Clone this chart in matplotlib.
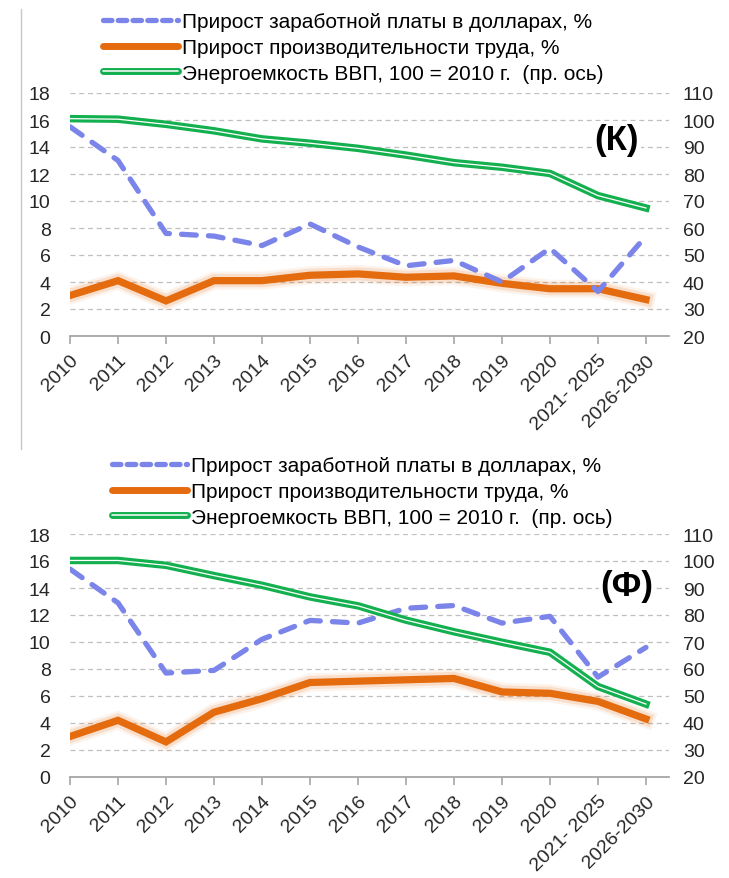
import matplotlib
matplotlib.use('Agg')
import matplotlib.pyplot as plt
import matplotlib.patheffects as pe
from matplotlib.lines import Line2D

plt.rcParams['font.family'] = ['Liberation Sans', 'DejaVu Sans']

years = ['2010', '2011', '2012', '2013', '2014', '2015', '2016', '2017',
         '2018', '2019', '2020', '2021- 2025', '2026-2030']

# (К) scenario
wage_k = [15.5, 13.0, 7.6, 7.4, 6.7, 8.3, 6.6, 5.2, 5.6, 4.0, 6.5, 3.3, 7.4]
prod_k = [3.0, 4.1, 2.6, 4.1, 4.1, 4.5, 4.6, 4.35, 4.45, 3.9, 3.5, 3.5, 2.7]
energy_k = [100.5, 100.3, 98.4, 96.0, 93.0, 91.4, 89.5, 87.0, 84.2, 82.5, 80.2, 72.0, 67.4]

# (Ф) scenario
wage_f = [15.4, 12.9, 7.7, 7.9, 10.2, 11.6, 11.4, 12.5, 12.7, 11.4, 11.9, 7.4, 9.6]
prod_f = [3.0, 4.2, 2.6, 4.8, 5.8, 7.0, 7.1, 7.2, 7.3, 6.3, 6.2, 5.6, 4.3]
energy_f = [100.2, 100.2, 98.4, 94.6, 91.0, 86.7, 83.4, 78.1, 73.8, 69.9, 66.2, 53.5, 47.0]

labels = ['Прирост заработной платы в долларах, %',
          'Прирост производительности труда, %',
          'Энергоемкость ВВП, 100 = 2010 г.  (пр. ось)']

blue = '#7b84e9'
orange = '#e56b0f'
green = '#14b050'

fig = plt.figure(figsize=(7.29, 8.79), dpi=100)
W, H = 729, 879


def panel(top_px, wage, prod, energy, tag, tag_xy, leg_x, leg_y):
    ax = fig.add_axes([70 / W, 1 - (top_px + 243) / H, 599 / W, 243 / H])
    x = list(range(len(years)))
    glow = [pe.Stroke(linewidth=13, foreground=orange, alpha=0.08),
            pe.Stroke(linewidth=9.5, foreground=orange, alpha=0.15),
            pe.Normal()]
    ax.plot(x, prod, color=orange, lw=5.2, solid_joinstyle='miter',
            path_effects=glow, zorder=3)
    ax.plot(x, wage, color=blue, lw=3.8, dashes=(2.8, 2.3),
            dash_capstyle='round', zorder=4)
    ax.set_ylim(0, 18)
    ax.set_yticks(range(0, 19, 2))
    ax.set_xlim(0, 12.48)
    ax.set_xticks(x)
    ax.set_xticklabels(years, rotation=45, ha='right', rotation_mode='anchor')
    ax.yaxis.grid(True, color='#bfbfbf', ls=(0, (4, 3)), lw=0.9)
    ax.set_axisbelow(True)
    for s in ['top', 'left', 'right']:
        ax.spines[s].set_visible(False)
    ax.spines['bottom'].set_color('#a6a6a6')
    ax.spines['bottom'].set_linewidth(1.3)
    ax.tick_params(axis='x', colors='#a6a6a6', length=6, width=1.2,
                   labelcolor='#262626', labelsize=14, pad=5)
    ax.tick_params(axis='y', length=0, labelsize=14, labelcolor='#262626', pad=14)

    ax2 = ax.twinx()
    ax2.plot(x, energy, color=green, lw=5.4, solid_joinstyle='miter', zorder=3)
    ax2.plot(x, energy, color='white', lw=0.9, zorder=4)
    ax2.set_ylim(20, 110)
    ax2.set_yticks(range(20, 111, 10))
    for s in ['top', 'left', 'right', 'bottom']:
        ax2.spines[s].set_visible(False)
    ax2.tick_params(axis='y', length=0, labelsize=14, labelcolor='#262626', pad=10)
    ax2.set_zorder(ax.get_zorder() + 1)

    ax.text(tag_xy[0], tag_xy[1], tag, transform=ax.transAxes, fontsize=25,
            fontweight='bold', ha='center', va='center', color='black', zorder=6,
            bbox=dict(facecolor='white', edgecolor='none', pad=1))

    handles = [Line2D([], [], color=blue, lw=3.8, dashes=(1.6, 1.2),
                      dash_capstyle='round'),
               Line2D([], [], color=orange, lw=5, solid_capstyle='round'),
               Line2D([], [], color=green, lw=5, solid_capstyle='round',
                      path_effects=[pe.Normal(),
                                    pe.Stroke(linewidth=1.1, foreground='white')])]
    fig.legend(handles, labels, loc='upper left',
               bbox_to_anchor=(leg_x / W, 1 - leg_y / H), frameon=False,
               fontsize=15, handlelength=3.6, handletextpad=0.2,
               labelspacing=0.33, borderpad=0, borderaxespad=0)


panel(94, wage_k, prod_k, energy_k, '(К)', (0.913, 0.81), 103, 13)
panel(535, wage_f, prod_f, energy_f, '(Ф)', (0.929, 0.79), 112, 457)

fig.add_artist(Line2D([21 / W, 21 / W], [1 - 10 / H, 1 - 450 / H],
                      color='#c8c8c8', lw=1, transform=fig.transFigure))

fig.savefig('out.png', dpi=100)
